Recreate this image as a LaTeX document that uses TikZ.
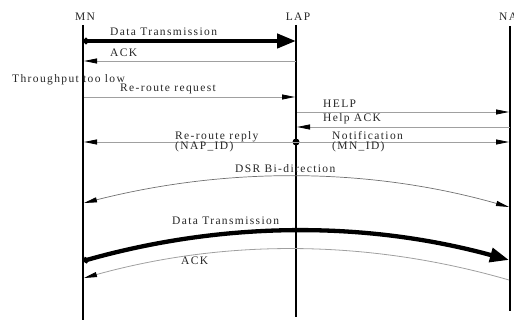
\documentclass[tikz,border=0pt]{standalone}
\usepackage{fontspec}
\setmainfont{Liberation Serif}[LetterSpace=12]
\usetikzlibrary{arrows.meta}
\definecolor{msggray}{HTML}{A0A0A0}
\definecolor{arcgray}{HTML}{707070}
\definecolor{txtgray}{HTML}{262626}
\begin{document}
\begin{tikzpicture}[x=1pt,y=-1pt,
  lbl/.style={anchor=base west,inner sep=0pt,text=txtgray,font=\fontsize{11.5}{13}\selectfont},
  head/.style={anchor=base,inner sep=0pt,text=txtgray,font=\fontsize{11.5}{13}\selectfont},
  life/.style={line width=1.5pt,black},
  msg/.style={msggray,line width=0.8pt,-{Triangle[length=13pt,width=5pt,color=black]}},
  bigmsg/.style={black,line width=4.3pt,{Circle[length=6pt]}-{Triangle[length=19pt,width=14pt]}},
  arcmsg/.style={arcgray,line width=0.7pt}]
\useasboundingbox (0,0) rectangle (514,320);
% headings
\node[head] (MN) at (85,21) {MN};
\node[head] (LAP) at (298,21) {LAP};
\node[head] (NAP) at (512,21) {NAP};
% lifelines
\coordinate (mnT) at (83,25); \coordinate (mnB) at (83,320);
\coordinate (lapT) at (296,25); \coordinate (lapB) at (296,317);
\coordinate (napT) at (510,26); \coordinate (napB) at (510,311);
\draw[life] (mnT) -- (mnB);
\draw[life] (lapT) -- (lapB);
\draw[life] (napT) -- (napB);
% message endpoints
\coordinate (m1) at (83,41); \coordinate (l1) at (296,41);
\coordinate (m2) at (84,61); \coordinate (l2) at (296,61);
\coordinate (m3) at (84,97); \coordinate (l3) at (295,97);
\coordinate (l4) at (297,112); \coordinate (n4) at (509,112);
\coordinate (l5) at (297,127); \coordinate (n5) at (510,127);
\coordinate (m6) at (84,142); \coordinate (n6) at (509,142);
\node[circle,fill=black,inner sep=0pt,minimum size=7pt] (l6) at (296,142) {};
% straight messages
\draw[bigmsg] (m1) -- (l1);
\node[lbl] (t1) at (110,36) {Data Transmission};
\draw[msg] (l2) -- (m2);
\node[lbl] (t2) at (110,57) {ACK};
\node[lbl] (t3) at (12,83) {Throughput too low};
\draw[msg] (m3) -- (l3);
\node[lbl] (t4) at (120,92) {Re-route request};
\draw[msg] (l4) -- (n4);
\node[lbl] (t5) at (323,108) {HELP};
\draw[msg] (n5) -- (l5);
\node[lbl] (t6) at (323,122) {Help ACK};
\draw[msg] (l6.center) -- (m6);
\draw[msg] (l6.center) -- (n6);
\node[lbl] (t7) at (175,140) {Re-route reply};
\node[lbl] (t8) at (175,150) {(NAP\_ID)};
\node[lbl] (t9) at (332,140) {Notification};
\node[lbl] (t10) at (332,150) {(MN\_ID)};
% DSR bi-direction arc
\coordinate (d1) at (84,203); \coordinate (d2) at (509,207);
\coordinate (dc1) at (226,167); \coordinate (dc2) at (368,167);
\draw[arcmsg,{Triangle[length=13pt,width=5pt,color=black]}-{Triangle[length=13pt,width=5pt,color=black]}] (d1) .. controls (dc1) and (dc2) .. (d2);
\node[lbl] (t11) at (235,173) {DSR Bi-direction};
% thick data arc
\coordinate (e1) at (83,261); \coordinate (e2) at (509,260);
\coordinate (ec1) at (225,221); \coordinate (ec2) at (366,221);
\draw[bigmsg] (e1) .. controls (ec1) and (ec2) .. (e2);
\node[lbl] (t12) at (172,225) {Data Transmission};
% ACK arc
\coordinate (f1) at (509,280); \coordinate (f2) at (84,278);
\coordinate (fc1) at (367,239); \coordinate (fc2) at (225,239);
\draw[msggray,line width=0.8pt,-{Triangle[length=13pt,width=5pt,color=black]}] (f1) .. controls (fc1) and (fc2) .. (f2);
\node[lbl] (t13) at (181,265) {ACK};
\end{tikzpicture}
\end{document}
